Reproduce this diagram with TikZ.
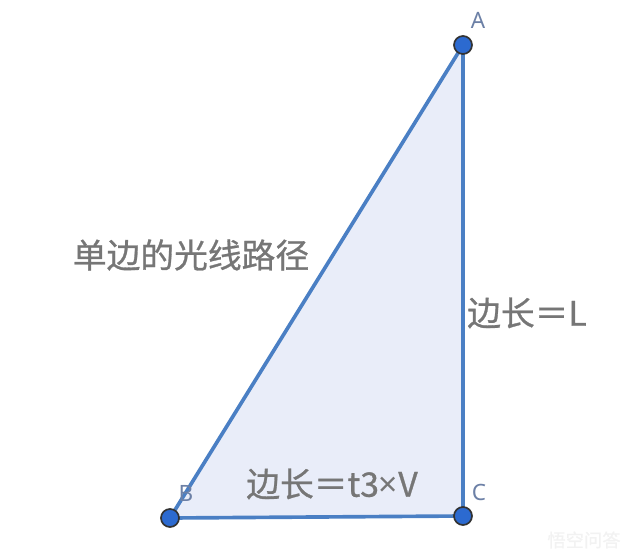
\documentclass[tikz,border=0pt]{standalone}
\usepackage{fontspec}
\usepackage{tikz}
\setmainfont{Noto Sans CJK SC}
\newfontfamily\cjk[FakeBold=0.8]{Noto Sans CJK SC}
\newfontfamily\latin{Noto Sans}
\definecolor{Edge}{HTML}{4A7FC4}
\definecolor{Face}{HTML}{E9EDF9}
\definecolor{Dot}{HTML}{2C6AD0}
\definecolor{Letter}{HTML}{6C80A6}
\definecolor{Words}{HTML}{767676}

\begin{document}
\begin{tikzpicture}[x=0.025cm,y=-0.025cm,
    vertex/.style={circle, draw=black!80, line width=1.2pt, fill=Dot, inner sep=0pt, minimum size=0.45cm},
    vlabel/.style={font={\latin\fontsize{16pt}{16pt}\selectfont}, text=Letter, inner sep=0pt},
    sidelabel/.style={font={\cjk\fontsize{24pt}{24pt}\selectfont}, text=Words, inner sep=0pt},
    edge/.style={draw=Edge, line width=2.6pt, line join=round},
    watermark/.style={font={\cjk\fontsize{13pt}{13pt}\selectfont}, text=black!5, inner sep=0pt}
    ]
    \useasboundingbox (0,0) rectangle (640,560);

    \coordinate (a) at (463,45);
    \coordinate (b) at (170,518);
    \coordinate (c) at (463,516);

    \fill[Face] (a) -- (b) -- (c) -- cycle;
    \draw[edge] (a) -- (b) -- (c) -- cycle;

    \node[vertex] (A) at (a) {};
    \node[vertex] (B) at (b) {};
    \node[vertex] (C) at (c) {};

    \node[vlabel] (la) at (478,20) {A};
    \node[vlabel] (lb) at (186,493) {B};
    \node[vlabel] (lc) at (479,492) {C};

    \node[sidelabel] (path) at (191,255) {单边的光线路径};
    \node[sidelabel] (side) at (527,313) {边长＝L};
    \node[sidelabel] (base) at (332,484) {边长＝t3{\latin ×}V};

    \node[watermark] (logo) at (584,540) {悟空问答};
\end{tikzpicture}
\end{document}
